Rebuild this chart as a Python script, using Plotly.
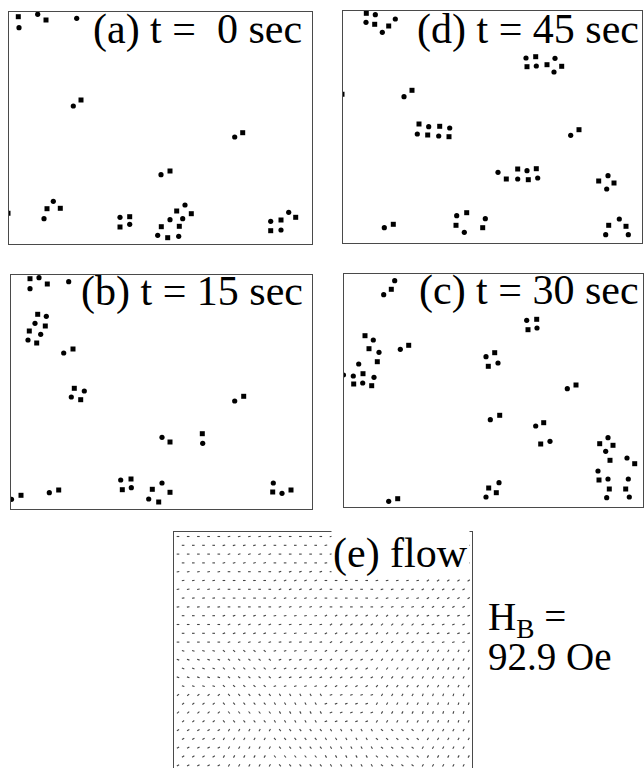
import math
import plotly.graph_objects as go

# ---------------------------------------------------------------------------
# Bubble positions (x, y) in each frame, measured from the top-left corner of
# the field of view (y grows downward). Two bubble families: squares / circles.
# ---------------------------------------------------------------------------
a_sq_x = [9.3, 37, 72, 233.7, 161, 38, 51.3, -1, 120.7, 111, 167.7, 182.3, 152.3, 170.3, 158.7, 286.7, 272, 261.7]
a_sq_y = [4.7, 8, 88, 120.7, 159, 196.7, 196.3, 201.3, 204.7, 215, 199, 201.7, 214.7, 214.3, 225.7, 205.3, 208, 218.7]
a_ci_x = [10, 28.7, 67.7, 64.3, 225.7, 152, 44.3, 35, 111, 120.7, 176, 161, 173.7, 148.7, 169.7, 279.7, 261.7, 272]
a_ci_y = [15.7, 2.3, 6.3, 94, 125, 162.7, 189.3, 206.7, 205.3, 212.3, 193, 207.7, 206.7, 223.3, 224.3, 200.3, 209.3, 218]

b_sq_x = [19, 36.3, 26.7, 34.3, 18.3, 25.7, 62, 63.3, 69.7, 232.7, 159, 191.3, 10, 47.7, 120, 111.3, 141.3, 159, 147.7, 261.7, 280]
b_sq_y = [3.7, 9, 39.3, 51, 56, 68, 74, 113.3, 124.7, 121.3, 167, 158.7, 220.3, 215, 204, 214.7, 214.3, 217.3, 227, 217, 215]
b_ci_x = [28, 19, 57.7, 35.3, 24, 29.7, 17, 52.7, 73.3, 60.3, 223.7, 151, 191.7, 0.5, 38.3, 109.7, 120.3, 151, 137.7, 262.3, 271]
b_ci_y = [2.7, 13.7, 6.7, 41.3, 48.3, 59.3, 65, 78, 116, 122, 126, 162.3, 168.3, 224.3, 217.7, 205, 212.7, 208, 224, 208, 218.3]

c_sq_x = [47.3, 192.7, 184, 21, 25, 64.7, 33.3, 19, 9.7, 27.7, 150.7, 144.3, 232, 155.7, 199.7, 196.7, 255.7, 269, 266, 290.7, 255, 265.3, 281.7, 144.7, 152.3, 53.7]
c_sq_y = [15.3, 45.3, 55.7, 61.7, 74.7, 71.3, 87.7, 99.7, 110, 111.7, 78.7, 92.3, 111, 141.3, 148.7, 170, 169.7, 171.3, 186.3, 189.7, 206, 215, 215, 214, 218.7, 224.7]
c_ci_x = [50.7, 39.7, 182.7, 193, 29.3, 35, 56.3, 14.7, -0.5, 9.3, 30, 18.7, 142, 154, 223.3, 146.3, 191.7, 206, 264, 261.7, 283, 254, 264, 284.3, 262.7, 285.3, 155, 142, 44.7]
c_ci_y = [6.7, 20.7, 46.3, 54, 66, 78.3, 75.3, 90, 101, 102, 103.3, 109, 82.7, 89, 114.7, 145.7, 152, 167.3, 163.7, 177.3, 184, 197, 205, 205, 223.7, 223, 208.7, 223, 227.3]

d_sq_x = [23.3, 31.7, 45.7, 192.7, 184, 204, 218.7, -1, 69, 76, 96.7, 84.7, 106, 236, 163.3, 174.7, 185.3, 193.3, 255.7, 271, 50.3, 123.7, 113, 139.7, 265.7, 283]
d_sq_y = [2.3, 13.3, 15, 45.7, 55.7, 53.7, 55.3, 83.3, 79.3, 113, 115.3, 124, 125.7, 118.7, 168, 158, 168.7, 157.7, 170, 172, 213.3, 201.7, 214.3, 216.7, 214.3, 215.3]
d_ci_x = [32.3, 23, 39.3, 52.3, 183, 193.3, 212, 211, 61, 85.7, 106.7, 74.3, 95.7, 227.7, 155, 174.7, 184, 194.7, 265, 263.7, 41.3, 113.7, 121.3, 142.3, 276.3, 262.7, 285.3]
d_ci_y = [3.7, 11.3, 21.3, 8, 47, 55, 47.3, 61, 85.7, 115.7, 117, 123, 125, 124.3, 161.3, 168, 159.7, 167, 164.7, 178, 216.7, 204.7, 221.3, 207.7, 208, 223.7, 223.7]

frame_labels = ["(a) t =\u00a0\u00a00 sec", "(b) t = 15 sec", "(c) t = 30 sec", "(d) t = 45 sec"]
flow_label = "(e) flow"
field_lines = ["H<sub>B</sub> =", "92.9 Oe"]

# Flow panel: triangular bubble lattice (lattice constant and row pitch),
# with the local displacement direction (degrees) over a coarse 6x6 grid.
lattice_a = 10.2
lattice_row = 8.8
flow_angle = [
    [0, 15, 0, 10, 0, 0],
    [10, 0, 20, 0, 15, 30],
    [0, 20, 10, 30, 40, 20],
    [-20, -40, 20, 30, 50, 60],
    [40, -50, -60, 20, 60, 70],
    [30, 60, -50, -60, -40, 60],
]
seg_len = 2.6

W, H = 644, 768
FONT = "Liberation Serif"

# frame boxes in page pixels: (left, top, right, bottom)
boxes = {
    "a": (9, 12, 312, 244),
    "d": (343, 11, 642, 243),
    "b": (11, 275, 312, 509),
    "c": (344, 274, 643, 507),
    "e": (174, 532, 472, 768),
}

fig = go.Figure()
layout = dict(width=W, height=H, margin=dict(l=0, r=0, t=0, b=0),
              paper_bgcolor="white", plot_bgcolor="white", showlegend=False,
              font=dict(family=FONT))

frames = [
    ("a", a_sq_x, a_sq_y, a_ci_x, a_ci_y),
    ("b", b_sq_x, b_sq_y, b_ci_x, b_ci_y),
    ("c", c_sq_x, c_sq_y, c_ci_x, c_ci_y),
    ("d", d_sq_x, d_sq_y, d_ci_x, d_ci_y),
]

LINE = "#4a4a4a"
annotations = []

for i, key in enumerate(["a", "b", "c", "d", "e"]):
    n = i + 1
    xa = "xaxis" if n == 1 else f"xaxis{n}"
    ya = "yaxis" if n == 1 else f"yaxis{n}"
    xr = "x" if n == 1 else f"x{n}"
    yr = "y" if n == 1 else f"y{n}"
    l, t, r, b = boxes[key]
    w, h = r - l, b - t
    xdom = [l / W, r / W]
    ydom = [max(0, 1 - b / H), 1 - t / H]
    common = dict(showgrid=False, zeroline=False, showticklabels=False, ticks="")
    if key == "e":
        layout[xa] = dict(domain=xdom, range=[0, w], anchor=yr, side="top",
                          showline=True, linecolor=LINE, linewidth=1, mirror=False, **common)
        layout[ya] = dict(domain=ydom, range=[h, 0], anchor=xr,
                          showline=True, linecolor=LINE, linewidth=1, mirror=True, **common)
    else:
        layout[xa] = dict(domain=xdom, range=[0, w], anchor=yr,
                          showline=True, linecolor=LINE, linewidth=1, mirror=True, **common)
        layout[ya] = dict(domain=ydom, range=[h, 0], anchor=xr,
                          showline=True, linecolor=LINE, linewidth=1, mirror=True, **common)

for i, (key, sx, sy, cx, cy) in enumerate(frames):
    n = i + 1
    xr = "x" if n == 1 else f"x{n}"
    yr = "y" if n == 1 else f"y{n}"
    fig.add_trace(go.Scatter(x=sx, y=sy, mode="markers", xaxis=xr, yaxis=yr,
                             marker=dict(symbol="square", size=5, color="black", line=dict(width=0))))
    fig.add_trace(go.Scatter(x=cx, y=cy, mode="markers", xaxis=xr, yaxis=yr,
                             marker=dict(symbol="circle", size=5.2, color="black", line=dict(width=0))))

# flow field: one short segment per lattice site
l, t, r, b = boxes["e"]
fw, fh = r - l, b - t
seg_x, seg_y = [], []
row = 0
y = 4.5
while y < fh + 4:
    x = 4.0 + (lattice_a / 2 if row % 2 else 0.0)
    while x < fw - 2:
        gi = min(5, int(y / (fh / 6)))
        gj = min(5, int(x / (fw / 6)))
        ang = math.radians(flow_angle[gi][gj])
        dx = 0.5 * seg_len * math.cos(ang)
        dy = -0.5 * seg_len * math.sin(ang)
        seg_x += [x - dx, x + dx, None]
        seg_y += [y - dy, y + dy, None]
        x += lattice_a
    y += lattice_row
    row += 1
fig.add_trace(go.Scatter(x=seg_x, y=seg_y, mode="lines", xaxis="x5", yaxis="y5",
                         line=dict(color="#444444", width=1.1)))

# labels
S = 42
label_pos = {"a": (304, 42.7), "b": (305, 304.7), "c": (641, 303.7), "d": (641, 42.7)}
for key, txt in zip(["a", "b", "c", "d"], frame_labels):
    xr_px, base = label_pos[key]
    annotations.append(dict(text=txt, xref="paper", yref="paper", x=xr_px / W,
                            y=1 - (base - 0.891 * S - 1) / H, xanchor="right", yanchor="top",
                            showarrow=False, font=dict(family=FONT, size=S, color="black")))
annotations.append(dict(text=flow_label, xref="paper", yref="paper", x=470 / W,
                        y=1 - (566.7 - 0.891 * S - 1) / H, xanchor="right", yanchor="top",
                        showarrow=False, bgcolor="white", borderpad=1,
                        font=dict(family=FONT, size=S, color="black")))
S2 = 39
for txt, base in zip(field_lines, [630, 670]):
    annotations.append(dict(text=txt, xref="paper", yref="paper", x=487 / W,
                            y=1 - (base - 0.891 * S2 - 1) / H, xanchor="left", yanchor="top",
                            showarrow=False, borderpad=0,
                            font=dict(family=FONT, size=S2, color="black")))

layout["annotations"] = annotations
fig.update_layout(**layout)
fig.write_html("out.html")
